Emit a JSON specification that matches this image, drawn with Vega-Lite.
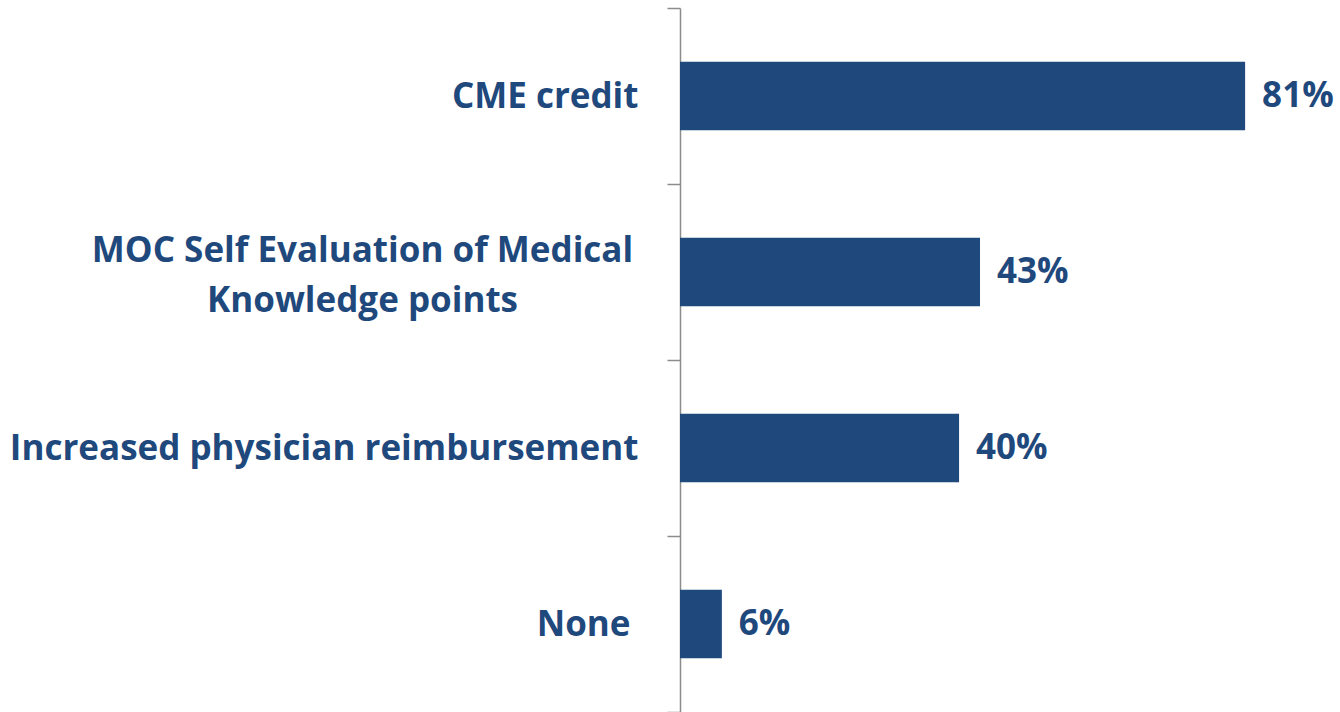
{
  "$schema": "https://vega.github.io/schema/vega-lite/v6.json",
  "width": 660,
  "height": 704,
  "autosize": "none",
  "padding": {"left": 680, "top": 8, "right": 0, "bottom": 0},
  "background": "white",
  "config": {"view": {"stroke": null}},
  "data": {
    "values": [
      {"item": "CME credit", "pct": 81, "label": "81%"},
      {"item": "MOC Self Evaluation of Medical Knowledge points", "pct": 43, "label": "43%"},
      {"item": "Increased physician reimbursement", "pct": 40, "label": "40%"},
      {"item": "None", "pct": 6, "label": "6%"}
    ]
  },
  "encoding": {
    "y": {
      "field": "item",
      "type": "nominal",
      "sort": null,
      "scale": {"paddingInner": 0, "paddingOuter": 0},
      "axis": {
        "title": null,
        "tickBand": "extent",
        "domainColor": "#8c8c8c",
        "domainWidth": 1.5,
        "tickColor": "#8c8c8c",
        "tickWidth": 1.5,
        "tickSize": 13,
        "labelPadding": {"condition": [{"test": "datum.value == 'MOC Self Evaluation of Medical Knowledge points'", "value": 305}, {"test": "datum.value == 'None'", "value": 37}], "value": 29},
        "labelAlign": {"condition": {"test": "datum.value == 'MOC Self Evaluation of Medical Knowledge points'", "value": "center"}, "value": "right"},
        "labelOffset": {"condition": {"test": "datum.value == 'MOC Self Evaluation of Medical Knowledge points'", "value": -22}, "value": 0},
        "labelFont": "Open Sans",
        "labelFontWeight": "bold",
        "labelFontSize": 35,
        "labelColor": "#1F497D",
        "labelLineHeight": 50,
        "labelLimit": 800,
        "labelExpr": "datum.value == 'MOC Self Evaluation of Medical Knowledge points' ? ['MOC Self Evaluation of Medical', 'Knowledge points'] : datum.value"
      }
    }
  },
  "layer": [
    {
      "mark": {"type": "bar", "color": "#1F497D", "height": {"band": 0.39}},
      "encoding": {
        "x": {"field": "pct", "type": "quantitative", "scale": {"domain": [0, 94.6], "nice": false}, "axis": null}
      }
    },
    {
      "mark": {"type": "text", "align": "left", "baseline": "middle", "dx": 17, "font": "Open Sans", "fontWeight": "bold", "fontSize": 35, "color": "#1F497D"},
      "encoding": {
        "x": {"field": "pct", "type": "quantitative"},
        "text": {"field": "label"}
      }
    }
  ]
}
